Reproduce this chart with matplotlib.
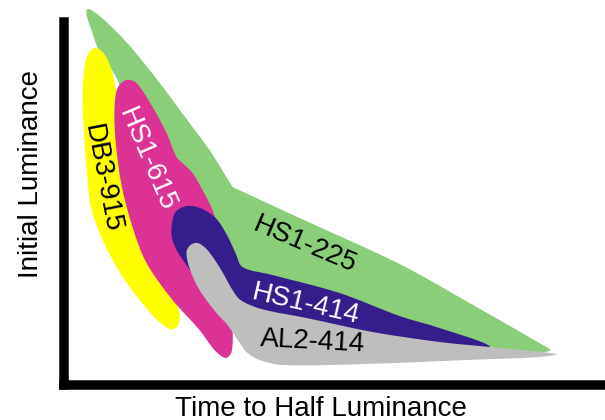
import numpy as np
import matplotlib
matplotlib.use("Agg")
import matplotlib.pyplot as plt
from matplotlib.path import Path
from matplotlib.patches import PathPatch

plt.rcParams['font.family'] = ['Liberation Sans', 'DejaVu Sans']

# outlines of each lamp family in (time to half luminance, initial luminance), arbitrary units
HS1_225_T = [24, 31, 44, 61, 78, 94, 126, 146, 169, 236, 336, 406, 481, 487, 481, 456, 426,
             336, 236, 166, 126, 86, 61, 54, 44, 34, 28, 23]
HS1_225_L = [376, 373, 362, 345, 325, 305, 262, 235, 198, 167, 121, 82, 39, 35, 33, 34, 38,
             59, 85, 123, 160, 215, 285, 305, 322, 338, 355, 370]

DB3_915_T = [31, 40, 48, 56, 64, 81, 104, 116, 114, 106, 86, 53, 29, 23, 19, 21, 24]
DB3_915_L = [337, 332, 315, 275, 195, 140, 100, 72, 59, 56, 73, 118, 172, 218, 285, 318, 330]

HS1_615_T = [63, 73, 89, 103, 113, 120, 129, 139, 149, 158, 164, 169, 168, 162, 151, 136, 109, 83, 69, 58, 52, 51, 54]
HS1_615_L = [305, 302, 278, 252, 228, 221, 212, 195, 175, 145, 95, 55, 33, 27, 35, 55, 85, 122, 158, 200, 245, 275, 297]

HS1_414_T = [108, 112, 124, 139, 153, 164, 172, 179, 209, 276, 336, 376, 426, 406, 336, 236, 176, 136, 116, 109]
HS1_414_L = [157, 173, 179, 176, 166, 149, 132, 118, 110, 92, 69, 57, 39, 35, 40, 60, 80, 105, 130, 145]

AL2_414_T = [123, 127, 134, 142, 150, 160, 169, 177, 198, 243, 309, 376, 426, 493, 476, 403, 303, 219, 196, 183, 173, 164, 153, 136, 126]
AL2_414_L = [133, 140, 142, 137, 127, 111, 95, 85, 76, 67, 53, 43, 38, 31, 28, 25, 21, 20, 25, 33, 47, 60, 72, 95, 117]

NAMES = ["HS1-225", "DB3-915", "HS1-615", "HS1-414", "AL2-414"]
COLORS = ["#8ace7a", "#ffff00", "#dc3296", "#351e8c", "#bebebe"]
TEXT_COLORS = ["black", "black", "white", "white", "black"]
# label anchor (time, luminance) and angle
LABEL_T = [241, 39, 83, 242, 249]
LABEL_L = [140, 206, 225, 80, 43]
LABEL_ROT = [-23, -79, -67, -13, -3]
SHARP = [[8], [], [], [], []]


def blob(xs, ys, sharp=()):
    # closed smooth outline through the points (chord-length Catmull-Rom as cubic Bezier)
    pts = np.column_stack([xs, ys]).astype(float)
    n = len(pts)
    verts = [pts[0]]
    codes = [Path.MOVETO]
    for i in range(n):
        p0, p1, p2, p3 = pts[i - 1], pts[i], pts[(i + 1) % n], pts[(i + 2) % n]
        d01 = np.hypot(*(p1 - p0))
        d12 = np.hypot(*(p2 - p1))
        d23 = np.hypot(*(p3 - p2))
        c1 = p1 if i in sharp else p1 + (p2 - p0) / (d01 + d12) * d12 / 3
        c2 = p2 if (i + 1) % n in sharp else p2 - (p3 - p1) / (d12 + d23) * d12 / 3
        verts += [c1, c2, p2]
        codes += [Path.CURVE4] * 3
    verts.append(pts[0])
    codes.append(Path.CLOSEPOLY)
    return Path(verts, codes)


fig = plt.figure(figsize=(6.05, 4.2), dpi=100)
ax = fig.add_axes([63.5 / 605, 35 / 420, 541.5 / 605, 363 / 420])
ax.set_xlim(0, 541.5)
ax.set_ylim(0, 363)

outlines = [(HS1_225_T, HS1_225_L), (DB3_915_T, DB3_915_L), (HS1_615_T, HS1_615_L),
            (HS1_414_T, HS1_414_L), (AL2_414_T, AL2_414_L)]
for k, (t, l) in enumerate(outlines):
    patch = PathPatch(blob(t, l, SHARP[k]), facecolor=COLORS[k], edgecolor='none', clip_on=False)
    ax.add_patch(patch)

for k, name in enumerate(NAMES):
    ax.text(LABEL_T[k], LABEL_L[k], name, rotation=LABEL_ROT[k], rotation_mode='anchor',
            ha='center', va='center', fontsize=20, color=TEXT_COLORS[k])

ax.set_xticks([])
ax.set_yticks([])
ax.spines[['top', 'right']].set_visible(False)
for side in ['left', 'bottom']:
    ax.spines[side].set_linewidth(6.84)
    ax.spines[side].set_color('black')
ax.spines['bottom'].set_capstyle('projecting')
ax.patch.set_alpha(0)

fig.text(321 / 605, 1 - 415.5 / 420, "Time to Half Luminance", ha='center', va='baseline', fontsize=20)
fig.text(38 / 605, 1 - 174.5 / 420, "Initial Luminance", rotation=90, rotation_mode='anchor',
         ha='center', va='baseline', fontsize=20)

fig.savefig("out.png", dpi=100)
